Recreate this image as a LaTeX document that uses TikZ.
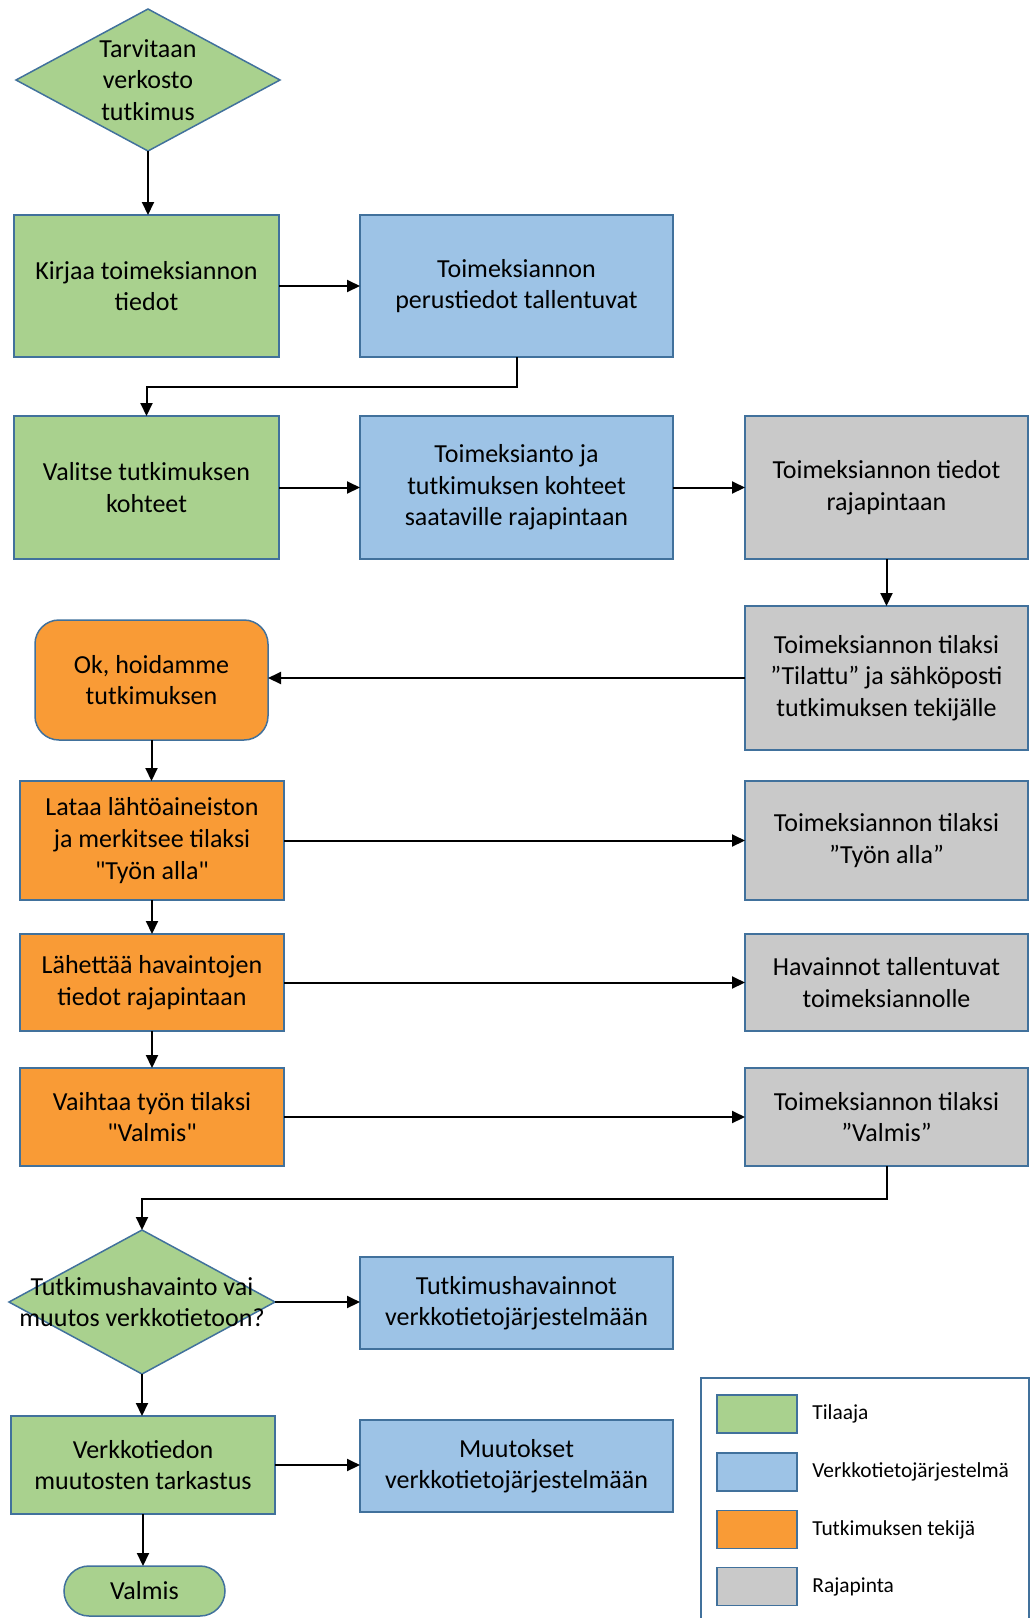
\documentclass[tikz,border=0pt]{standalone}
\usepackage{fontspec}
\setmainfont{Carlito}
% same face without the TeX mapping, so that " stays a straight quote
\newfontfamily\straightq{Carlito}
\newcommand{\sq}{{\straightq"}}
\usetikzlibrary{arrows.meta,shapes.geometric}

\definecolor{cgreen}{HTML}{A9D18E}
\definecolor{cblue}{HTML}{9DC3E6}
\definecolor{corange}{HTML}{F99B36}
\definecolor{cgray}{HTML}{C9C9C9}
\definecolor{cedge}{HTML}{41719C}

\tikzset{
  sz/.style 2 args={minimum width=#1*0.5pt, minimum height=#2*0.5pt},
  shapebox/.style={draw=cedge, line width=0.75pt, inner sep=0pt, outer sep=0pt,
    align=center, font=\fontsize{13}{15.8}\selectfont},
  tilaaja/.style={shapebox, fill=cgreen},
  verkko/.style={shapebox, fill=cblue},
  tekija/.style={shapebox, fill=corange},
  raja/.style={shapebox, fill=cgray},
  choice/.style={tilaaja, shape=diamond},
  label/.style={align=center, inner sep=0pt, font=\fontsize{13}{15.8}\selectfont},
  swatch/.style={draw=cedge, line width=0.75pt, inner sep=0pt, minimum width=40pt, minimum height=19pt},
  legtext/.style={anchor=west, inner sep=0pt, font=\fontsize{10.7}{12}\selectfont},
  flow/.style={line width=1pt, -{Triangle[length=6.5pt,width=6pt]}},
}

\begin{document}
\begin{tikzpicture}[x=0.5pt, y=-0.5pt]
\useasboundingbox (0,0) rectangle (1031,1618);
\clip (0,0) rectangle (1031,1618);

% start
\node[choice, sz={264}{142}] (start) at (148,80) {};
\node[label] at (start) {Tarvitaan\\verkosto\\tutkimus};

% order
\node[tilaaja, sz={265}{142}] (kirjaa) at (146.5,286) {Kirjaa toimeksiannon\\tiedot};
\node[verkko, sz={313}{142}] (perus) at (516.5,286) {Toimeksiannon\\perustiedot tallentuvat};

\node[tilaaja, sz={265}{143}] (valitse) at (146.5,487.5) {Valitse tutkimuksen\\kohteet};
\node[verkko, sz={313}{143}] (saataville) at (516.5,487.5) {Toimeksianto ja\\tutkimuksen kohteet\\saataville rajapintaan};
\node[raja, sz={283}{143}] (rajatiedot) at (886.5,487.5) {Toimeksiannon tiedot\\rajapintaan};

\node[raja, sz={283}{144}] (tilattu) at (886.5,678) {Toimeksiannon tilaksi\\”Tilattu” ja sähköposti\\tutkimuksen tekijälle};
\node[tekija, sz={233}{120}, rounded corners=12pt] (ok) at (151.5,680) {Ok, hoidamme\\tutkimuksen};

% work
\node[tekija, sz={264}{119}] (lataa) at (152,840.5) {Lataa lähtöaineiston\\ja merkitsee tilaksi\\\sq Työn alla\sq};
\node[raja, sz={283}{119}] (tyonalla) at (886.5,840.5) {Toimeksiannon tilaksi\\”Työn alla”};

\node[tekija, sz={264}{97}] (lahettaa) at (152,982.5) {Lähettää havaintojen\\tiedot rajapintaan};
\node[raja, sz={283}{97}] (havainnot) at (886.5,982.5) {Havainnot tallentuvat\\toimeksiannolle};

\node[tekija, sz={264}{98}] (vaihtaa) at (152,1117) {Vaihtaa työn tilaksi\\\sq Valmis\sq};
\node[raja, sz={283}{98}] (tilavalmis) at (886.5,1117) {Toimeksiannon tilaksi\\”Valmis”};

% result
\node[choice, sz={266}{144}] (kysymys) at (142,1302) {};
\node[label] at (kysymys) {Tutkimushavainto vai\\muutos verkkotietoon?};
\node[verkko, sz={313}{92}] (tutkhav) at (516.5,1303) {Tutkimushavainnot\\verkkotietojärjestelmään};

\node[tilaaja, sz={264}{98}] (tarkastus) at (143,1465) {Verkkotiedon\\muutosten tarkastus};
\node[verkko, sz={313}{92}] (muutokset) at (516.5,1466) {Muutokset\\verkkotietojärjestelmään};

\node[tilaaja, sz={161}{50}, rounded corners=12.5pt] (valmis) at (144.5,1591) {Valmis};

% connectors
\draw[flow] (start.south) -- (start.south |- kirjaa.north);
\draw[flow] (kirjaa.east) -- (kirjaa.east -| perus.west);
\draw[flow] (perus.south) -- ++(0,30) -| (valitse.north);
\draw[flow] (valitse.east) -- (valitse.east -| saataville.west);
\draw[flow] (saataville.east) -- (saataville.east -| rajatiedot.west);
\draw[flow] (rajatiedot.south) -- (tilattu.north);
\draw[flow] (tilattu.west) -- (tilattu.west -| ok.east);
\draw[flow] (ok.south) -- (ok.south |- lataa.north);
\draw[flow] (lataa.east) -- (lataa.east -| tyonalla.west);
\draw[flow] (lataa.south) -- (lahettaa.north);
\draw[flow] (lahettaa.east) -- (lahettaa.east -| havainnot.west);
\draw[flow] (lahettaa.south) -- (vaihtaa.north);
\draw[flow] (vaihtaa.east) -- (vaihtaa.east -| tilavalmis.west);
\draw[flow] (tilavalmis.south) -- ++(0,33) -| (kysymys.north);
\draw[flow] (kysymys.east) -- (kysymys.east -| tutkhav.west);
\draw[flow] (kysymys.south) -- (kysymys.south |- tarkastus.north);
\draw[flow] (tarkastus.east) -- (tarkastus.east -| muutokset.west);
\draw[flow] (tarkastus.south) -- (tarkastus.south |- valmis.north);

% legend
\draw[draw=cedge, line width=0.75pt] (701,1630) |- (1029,1378) -- (1029,1630);
\node[swatch, fill=cgreen] (sw1) at (757,1414) {};
\node[swatch, fill=cblue] (sw2) at (757,1472) {};
\node[swatch, fill=corange] (sw3) at (757,1529.5) {};
\node[swatch, fill=cgray] (sw4) at (757,1586.5) {};
\node[legtext] (lg1) at (812,1414) {Tilaaja};
\node[legtext] (lg2) at (812,1472) {Verkkotietojärjestelmä};
\node[legtext] (lg3) at (812,1529.5) {Tutkimuksen tekijä};
\node[legtext] (lg4) at (812,1586.5) {Rajapinta};
\end{tikzpicture}
\end{document}
